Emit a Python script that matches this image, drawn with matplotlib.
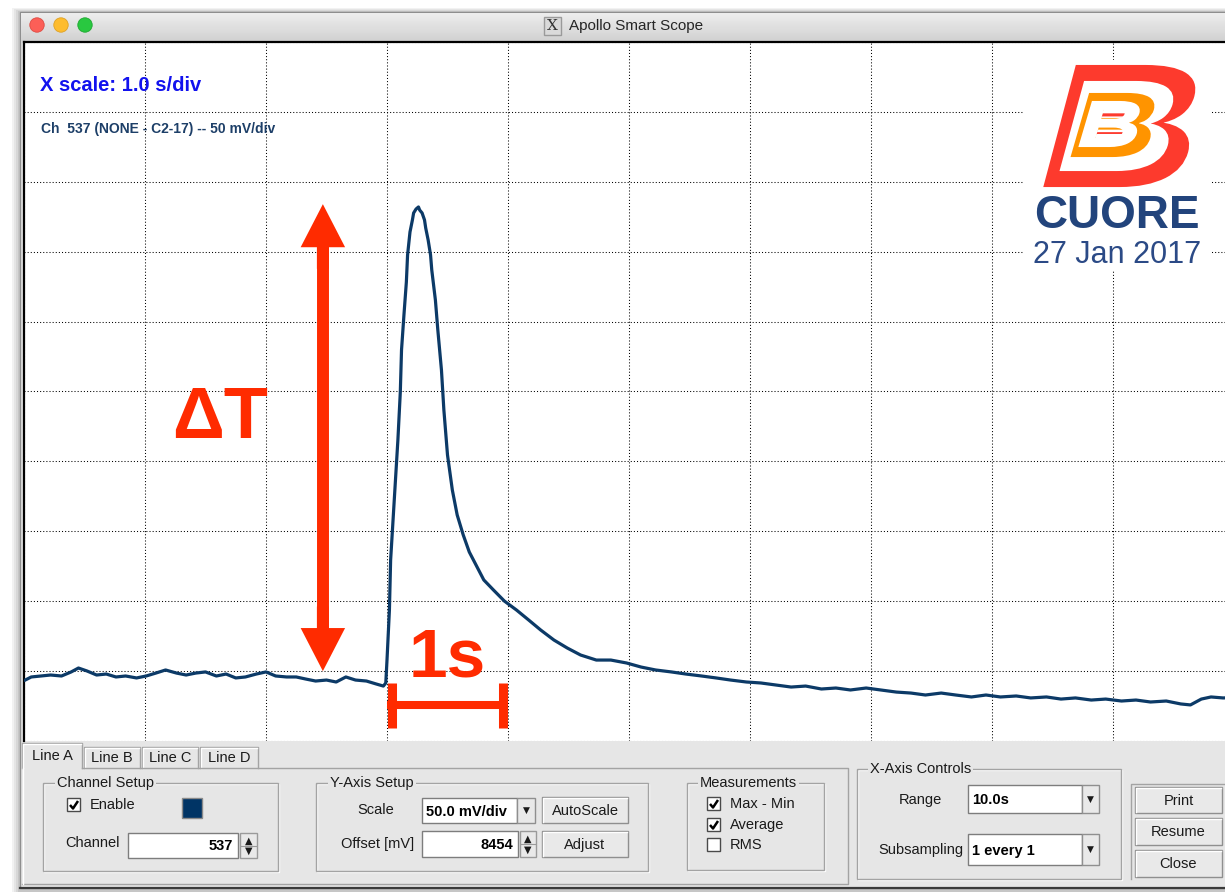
import numpy as np
import matplotlib
matplotlib.use("Agg")
import matplotlib.pyplot as plt
from matplotlib.patches import Rectangle, Circle, PathPatch, FancyArrowPatch, ArrowStyle
from matplotlib.colors import LinearSegmentedColormap
from matplotlib.textpath import TextPath
from matplotlib.font_manager import FontProperties
from matplotlib.transforms import Affine2D

plt.rcParams['font.family'] = ['Liberation Sans', 'DejaVu Sans']

# scope trace, channel 537: time [s] and signal [mV above bottom of screen]
time_s = [0.01, 0.06, 0.14, 0.22, 0.31, 0.39, 0.45, 0.52, 0.60, 0.68,
          0.76, 0.84, 0.93, 1.01, 1.09, 1.17, 1.26, 1.34, 1.42, 1.50,
          1.59, 1.67, 1.75, 1.83, 1.92, 2.00, 2.08, 2.17, 2.25, 2.33,
          2.41, 2.50, 2.58, 2.66, 2.74, 2.83, 2.91, 2.97, 2.99,
          3.00, 3.02, 3.03, 3.05, 3.07, 3.09, 3.11, 3.12, 3.14, 3.16,
          3.17, 3.19, 3.21, 3.22, 3.24, 3.26, 3.27, 3.29, 3.31, 3.32,
          3.34, 3.36, 3.37, 3.40, 3.42, 3.45, 3.47, 3.50, 3.54, 3.58,
          3.63, 3.68, 3.74, 3.80, 3.88, 3.97, 4.07, 4.17, 4.27, 4.38,
          4.49, 4.60, 4.73, 4.85, 4.98,
          5.10, 5.22, 5.35, 5.47, 5.60, 5.72, 5.84, 5.97, 6.09, 6.21,
          6.34, 6.46, 6.59, 6.71, 6.83, 6.96, 7.08, 7.21, 7.33, 7.45,
          7.58, 7.70, 7.83, 7.95, 8.07, 8.20, 8.32, 8.45, 8.57, 8.69,
          8.82, 8.94, 9.07, 9.19, 9.31, 9.44, 9.56, 9.64, 9.73, 9.81,
          9.91, 10.0]
signal_mv = [43.6, 45.8, 46.5, 47.2, 46.5, 49.4, 52.2, 50.1, 47.2, 47.9,
             45.8, 46.5, 45.1, 46.5, 48.6, 50.8, 48.6, 47.2, 48.6, 49.4,
             46.5, 47.9, 45.1, 45.8, 47.9, 49.4, 46.5, 45.8, 45.8, 44.3,
             42.9, 43.6, 42.2, 45.8, 43.6, 42.9, 40.8, 39.3, 41.5,
             57.9, 93.7, 129.5, 158.1, 186.7, 215.3, 249.6, 279.7, 304.7, 328.3,
             347.6, 364.1, 372.7, 377.7, 380.5, 382.0, 379.8, 377.7, 372.7, 366.9,
             358.4, 347.6, 336.9, 315.4, 294.0, 265.4, 236.8, 204.6, 179.5, 161.7,
             147.4, 135.2, 125.2, 115.2, 108.0, 100.1, 93.7, 86.6, 79.4, 72.2,
             66.5, 61.5, 57.9, 57.9, 55.8,
             52.9, 50.8, 49.4, 47.9, 46.5, 45.1, 43.6, 42.2, 41.5, 40.1,
             38.6, 39.3, 37.2, 37.9, 36.5, 37.9, 36.5, 35.0, 34.3, 32.9,
             34.3, 32.9, 31.5, 32.9, 31.5, 32.2, 30.8, 31.5, 30.0, 30.8,
             29.3, 30.0, 28.6, 29.3, 27.9, 28.6, 26.5, 25.8, 30.0, 31.5,
             30.8, 31.0]

# scope settings
s_per_div = 1.0
mv_per_div = 50.0
n_div = 10

# delta-T arrow (baseline -> peak) and the 1 s scale bar
dT_time = 2.47
dT_low, dT_high = 50.0, 384.0
bar_t0, bar_t1 = 3.0, 4.0
bar_level, bar_cap_lo, bar_cap_hi = 25.8, 9.3, 41.5

RED = '#ff2b00'
TRACE = '#0c3a67'
PANEL = '#e6e6e6'
EDGE = '#a3a3a3'

W, H = 1225, 893
fig = plt.figure(figsize=(W / 100, H / 100), dpi=100, facecolor='white')

# window background (behind the scope)
bg = fig.add_axes([0, 0, 1, 1], zorder=0)
bg.set_xlim(0, W)
bg.set_ylim(H, 0)
bg.axis('off')
for k, a in enumerate([0.05, 0.05, 0.06, 0.08]):
    d = 4 - k
    bg.add_patch(Rectangle((20 - d * 2, 12 - d), 1300, 880 + d, facecolor='black',
                           edgecolor='none', alpha=a))
bg.add_patch(Rectangle((20, 12), 1300, 876, facecolor=PANEL, edgecolor='#8e8e8e', lw=1))
grad = LinearSegmentedColormap.from_list('titlebar', ['#ededed', '#d2d2d2'])
bg.imshow(np.linspace(0, 1, 30)[:, None], extent=(21, 1300, 41, 13), cmap=grad,
          aspect='auto', origin='upper', zorder=2)
bg.plot([20, 1300], [888, 888], color='#3a3a3a', lw=1.6, zorder=3)

# scope screen
plot_left, plot_top, plot_bottom, div_px = 24, 42, 741, 121
ax = fig.add_axes([plot_left / W, 1 - plot_bottom / H, n_div * div_px / W,
                   (plot_bottom - plot_top) / H], zorder=1)
ax.set_facecolor('white')
ax.set_xlim(0, n_div * s_per_div)
ax.set_ylim(0, n_div * mv_per_div)
ax.set_xticks(np.arange(0, n_div + 1) * s_per_div)
ax.set_yticks(np.arange(0, n_div + 1) * mv_per_div)
ax.grid(True, color='black', linestyle=(0, (1, 2)), linewidth=0.75)
ax.tick_params(length=0, labelbottom=False, labelleft=False)
for side in ['right', 'bottom']:
    ax.spines[side].set_visible(False)
for side in ['left', 'top']:
    ax.spines[side].set_linewidth(1.6)
    ax.spines[side].set_color('black')

ax.plot(time_s, signal_mv, color=TRACE, lw=2.3, zorder=3)

# delta-T double arrow: one shaft plus a head at each end
head_pt = 31
head_mv = head_pt / 72 * 100 / ((plot_bottom - plot_top) / (n_div * mv_per_div))
ax.plot([dT_time, dT_time], [dT_low + head_mv * 0.8, dT_high - head_mv * 0.8], color=RED,
        lw=8.6, solid_capstyle='butt', zorder=4)
for end, sign in ((dT_high, -1), (dT_low, 1)):
    ax.add_patch(FancyArrowPatch((dT_time, end + sign * head_mv * 1.5), (dT_time, end),
                                 arrowstyle=ArrowStyle.Simple(head_length=head_pt, head_width=32,
                                                              tail_width=8.6),
                                 mutation_scale=1, color=RED, lw=0,
                                 shrinkA=0, shrinkB=0, zorder=4))
ax.text(1.62, 217, 'ΔT', color=RED, fontsize=52, fontweight='bold',
        ha='center', va='baseline', zorder=4)

# 1 s scale bar
cap_inset = 0.04
ax.plot([bar_t0, bar_t1], [bar_level, bar_level], color=RED, lw=5.8,
        solid_capstyle='butt', zorder=4)
for tc in (bar_t0 + cap_inset, bar_t1 - cap_inset):
    ax.plot([tc, tc], [bar_cap_lo, bar_cap_hi], color=RED, lw=6.5,
            solid_capstyle='butt', zorder=4)
ax.text((bar_t0 + bar_t1) / 2, 46, '1s', color=RED, fontsize=50, fontweight='bold',
        ha='center', va='baseline', zorder=4)

# overlay: title bar, labels, logo and control panel (pixel coordinates)
ui = fig.add_axes([0, 0, 1, 1], zorder=2)
ui.set_xlim(0, W)
ui.set_ylim(H, 0)
ui.axis('off')
ui.patch.set_visible(False)


def rect(x0, y0, x1, y1, fc, ec='none', lw=1.0, z=2):
    ui.add_patch(Rectangle((x0, y0), x1 - x0, y1 - y0, facecolor=fc, edgecolor=ec,
                           linewidth=lw, zorder=z))


def label(x, y, s, ha='left', size=10.5, bold=False, color='#1a1a1a', **kw):
    ui.text(x, y, s, ha=ha, va='center', fontsize=size, color=color,
            fontweight='bold' if bold else 'normal', zorder=6, **kw)


def group(x0, y0, x1, y1, title, tx):
    rect(x0 + 1, y0 + 1, x1 + 1, y1 + 1, 'none', 'white')
    rect(x0, y0, x1, y1, 'none', EDGE)
    label(tx, y0, title, bbox=dict(facecolor=PANEL, edgecolor='none', pad=1.5))


def button(x0, y0, x1, y1, text):
    rect(x0, y0, x1, y1, '#e9e9e9', '#8f8f8f')
    ui.plot([x0 + 1, x0 + 1, x1 - 1], [y1 - 1, y0 + 1, y0 + 1], color='white', lw=1, zorder=3)
    label((x0 + x1) / 2, (y0 + y1) / 2 + 1, text, ha='center')


def entry(x0, y0, x1, y1, text, right=True):
    rect(x0, y0, x1, y1, 'white', '#7d7d7d')
    if right:
        label(x1 - 5, (y0 + y1) / 2 + 1, text, ha='right', bold=True, color='black')
    else:
        label(x0 + 4, (y0 + y1) / 2 + 1, text, bold=True, color='black')


def dropdown(x0, y0, x1, y1):
    rect(x0, y0, x1, y1, '#e9e9e9', '#8f8f8f')
    label((x0 + x1) / 2, (y0 + y1) / 2, '▼', ha='center', size=6.5,
          family=['DejaVu Sans'])


def spin(x0, y0, x1, y1):
    rect(x0, y0, x1, y1, '#e9e9e9', '#9a9a9a')
    ym = (y0 + y1) / 2
    label((x0 + x1) / 2, ym - 5, '▲', ha='center', size=7, family=['DejaVu Sans'])
    label((x0 + x1) / 2, ym + 5.5, '▼', ha='center', size=7, family=['DejaVu Sans'])
    ui.plot([x0 + 1, x1 - 1], [ym, ym], color='#9a9a9a', lw=0.8, zorder=3)


def checkbox(x, y, checked, size=13):
    rect(x, y, x + size, y + size, 'white', '#4a4a4a')
    if checked:
        ui.plot([x + 3, x + 6, x + 11], [y + 7, y + 10.5, y + 3], color='black',
                lw=1.8, zorder=4, solid_capstyle='butt')


# title bar
for cx, col, ec in [(37, '#fc5f57', '#de4a41'), (61, '#fdbc2e', '#dea123'),
                    (85, '#29c840', '#1fa831')]:
    ui.add_patch(Circle((cx, 25), 7.2, facecolor=col, edgecolor=ec, lw=0.6, zorder=3))
rect(544, 17, 561, 35, '#dadada', '#9a9a9a')
ui.text(552.5, 26.5, 'X', ha='center', va='center', fontsize=11, color='#333333',
        family=['DejaVu Serif'], zorder=4)
ui.text(569, 26, 'Apollo Smart Scope', ha='left', va='center', fontsize=11,
        color='#262626', zorder=4)

# screen annotations
ui.text(40, 91, 'X scale: 1.0 s/div', ha='left', va='baseline', fontsize=14.5,
        fontweight='bold', color='#1212ee', zorder=4)
ui.text(41, 133, 'Ch  537 (NONE - C2-17) -- 50 mV/div', ha='left', va='baseline',
        fontsize=10, fontweight='bold', color='#1d3f68', zorder=4)

# CUORE logo
rect(1023, 60, 1212, 270, 'white', z=1)
bold_fp = FontProperties(family='Liberation Sans', weight='bold')


def glyph(ch, x0, y0, w, h, slant):
    tp = TextPath((0, 0), ch, size=1, prop=bold_fp)
    v = tp.vertices
    (xmin, ymin), (xmax, ymax) = v.min(0), v.max(0)
    tr = (Affine2D().translate(-xmin, -ymin).scale(1 / (xmax - xmin), 1 / (ymax - ymin))
          + Affine2D(np.array([[w, slant, x0], [0, -h, y0 + h], [0, 0, 1]])))
    return tr.transform_path(tp)


for (x0, y0, w, h, sl), col in [((1030, 66, 148, 120, 32), '#fd3a2d'),
                                 ((1050, 82, 110, 88, 24), 'white'),
                                 ((1064, 94, 80, 62, 18), '#ff9400'),
                                 ((1074, 102, 58, 44, 13), 'white')]:
    ui.add_patch(PathPatch(glyph('B', x0, y0, w, h, sl), facecolor=col, edgecolor=col,
                           lw=1.5, zorder=3))
ui.text(1117, 228, 'CUORE', ha='center', va='baseline', fontsize=33, fontweight='bold',
        color='#22447c', zorder=4)
ui.text(1117, 263, '27 Jan 2017', ha='center', va='baseline', fontsize=22,
        color='#2b4a86', zorder=4)

# tab row
tabs = [('Line A', 22, 82), ('Line B', 84, 140), ('Line C', 142, 198), ('Line D', 200, 258)]
for i, (name, x0, x1) in enumerate(tabs):
    top = 743 if i == 0 else 747
    ui.plot([x0, x0, x1, x1], [768, top, top, 768], color=EDGE, lw=1, zorder=3)
    ui.plot([x0 + 1, x0 + 1, x1 - 1], [768, top + 1, top + 1], color='white', lw=1, zorder=3)
    label((x0 + x1) / 2, (top + 768) / 2 + 1, name, ha='center')
ui.plot([82, 848, 848, 22], [768, 768, 884, 884], color=EDGE, lw=1, zorder=3)
ui.plot([23, 23], [768, 884], color='white', lw=1, zorder=3)

# Channel Setup
group(43, 783, 278, 871, 'Channel Setup', 57)
checkbox(67, 798, True)
label(90, 805, 'Enable')
rect(182, 798, 202, 818, '#003465', '#8a8a8a')
label(65, 843, 'Channel')
entry(128, 833, 238, 858, '537')
spin(240, 833, 257, 858)

# Y-Axis Setup
group(316, 783, 648, 871, 'Y-Axis Setup', 330)
label(376, 810, 'Scale', ha='center')
entry(422, 798, 517, 823, '50.0 mV/div', right=False)
dropdown(517, 798, 535, 823)
button(542, 797, 628, 823, 'AutoScale')
label(341, 844, 'Offset [mV]')
entry(422, 831, 518, 857, '8454')
spin(520, 831, 536, 857)
button(542, 831, 628, 857, 'Adjust')

# Measurements
group(687, 783, 824, 870, 'Measurements', 700)
for yy, name, on in [(797, 'Max - Min', True), (818, 'Average', True), (838, 'RMS', False)]:
    checkbox(707, yy, on)
    label(730, yy + 7, name)

# X-Axis Controls
group(857, 769, 1121, 879, 'X-Axis Controls', 870)
label(920, 800, 'Range', ha='center')
entry(968, 785, 1082, 813, '10.0s', right=False)
dropdown(1082, 785, 1099, 813)
label(878, 850, 'Subsampling')
entry(968, 834, 1082, 865, '1 every 1', right=False)
dropdown(1082, 834, 1099, 865)

# Print / Resume / Close
ui.plot([1131, 1131, 1230], [879, 784, 784], color=EDGE, lw=1, zorder=3)
button(1135, 787, 1222, 813, 'Print')
button(1135, 818, 1222, 845, 'Resume')
button(1135, 850, 1222, 877, 'Close')

fig.savefig('out.png', dpi=100, facecolor='white')
